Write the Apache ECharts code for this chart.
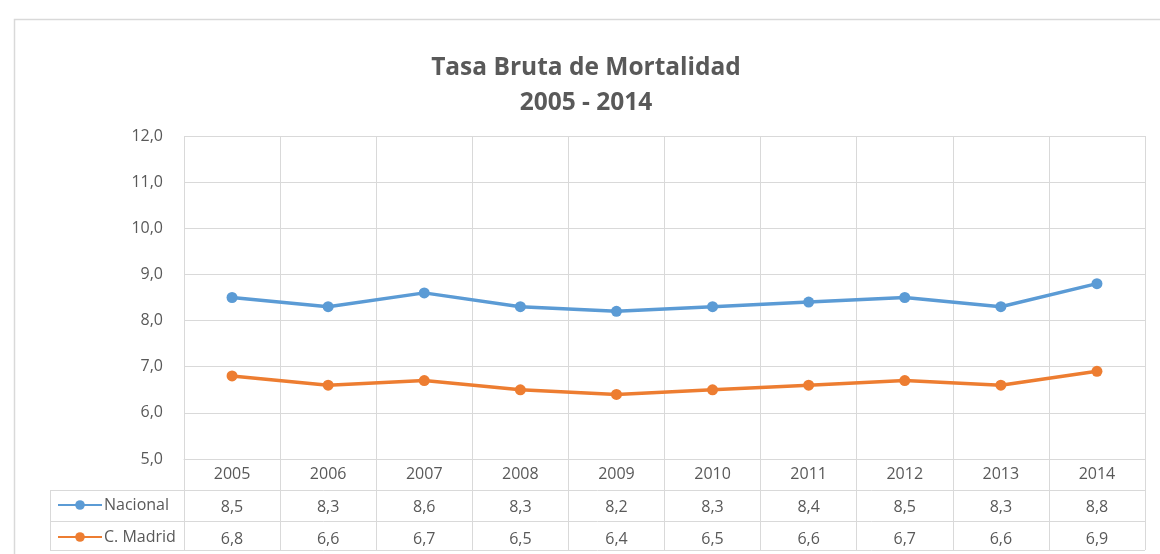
<!DOCTYPE html>
<html>
<head>
    <meta charset="utf-8" />
    <title>Tasa Bruta de Mortalidad</title>
    <script src="https://cdn.jsdelivr.net/npm/echarts@6/dist/echarts.min.js"></script>
    <style type="text/css">
        body {
            margin: 0;
            padding: 0;
            background-color: #ffffff;
            overflow: hidden;
        }

        #main {
            width: 1160px;
            height: 554px;
        }
    </style>
</head>
<body>
    <div id="main"></div>
    <script type="text/javascript">
        // datos
        var years = ['2005', '2006', '2007', '2008', '2009', '2010', '2011', '2012', '2013', '2014'];
        var nacional = [8.5, 8.3, 8.6, 8.3, 8.2, 8.3, 8.4, 8.5, 8.3, 8.8];
        var madrid = [6.8, 6.6, 6.7, 6.5, 6.4, 6.5, 6.6, 6.7, 6.6, 6.9];
        var yTicks = [5, 6, 7, 8, 9, 10, 11, 12];

        var textColor = '#595959';
        var gridColor = '#d9d9d9';
        var font = '"Open Sans", sans-serif';

        // coma decimal
        function fmt(v) {
            return Number(v).toFixed(1).replace('.', ',');
        }

        // eje de la tabla de datos (fila extra bajo el gráfico)
        function tableAxis(values, offset) {
            return {
                type: 'category',
                position: 'bottom',
                offset: offset,
                data: years,
                axisLine: { show: false },
                axisTick: { show: false },
                splitLine: { show: false },
                axisLabel: {
                    margin: 8,
                    color: textColor,
                    fontFamily: font,
                    fontSize: 16,
                    formatter: function (v, i) { return fmt(values[i]); }
                }
            };
        }

        var myChart = echarts.init(document.getElementById('main'));

        var options = {
            animation: false,
            title: {
                text: 'Tasa Bruta de Mortalidad\n2005 - 2014',
                left: 581,
                top: 46,
                textAlign: 'center',
                textStyle: {
                    color: textColor,
                    fontFamily: font,
                    fontWeight: 'bold',
                    fontSize: 24.5,
                    lineHeight: 35
                }
            },
            legend: {
                orient: 'vertical',
                left: 57,
                top: 495,
                height: 80,
                padding: 0,
                itemWidth: 44,
                itemHeight: 12,
                itemGap: 12,
                textStyle: {
                    color: textColor,
                    fontFamily: font,
                    fontSize: 16,
                    lineHeight: 20,
                    padding: [0, 0, 0, -3]
                },
                data: ['Nacional', 'C. Madrid']
            },
            grid: {
                left: 184,
                right: 15,
                top: 136,
                bottom: 95,
                containLabel: false
            },
            xAxis: [
                {
                    type: 'category',
                    data: years,
                    boundaryGap: true,
                    axisLine: { show: true, lineStyle: { color: gridColor, width: 1 } },
                    axisTick: { show: true, length: 91, lineStyle: { color: gridColor } },
                    splitLine: { show: true, lineStyle: { color: gridColor, width: 1 } },
                    axisLabel: {
                        margin: 7,
                        color: textColor,
                        fontFamily: font,
                        fontSize: 16
                    }
                },
                tableAxis(nacional, 32),
                tableAxis(madrid, 64)
            ],
            yAxis: {
                type: 'value',
                min: yTicks[0],
                max: yTicks[yTicks.length - 1],
                interval: 1,
                axisLine: { show: false },
                axisTick: { show: false },
                splitLine: { show: true, lineStyle: { color: gridColor, width: 1 } },
                axisLabel: {
                    margin: 21,
                    color: textColor,
                    fontFamily: font,
                    fontSize: 16,
                    formatter: fmt
                }
            },
            series: [
                {
                    name: 'Nacional',
                    type: 'line',
                    data: nacional,
                    symbol: 'circle',
                    symbolSize: 11,
                    itemStyle: { color: '#5B9BD5' },
                    lineStyle: { color: '#5B9BD5', width: 3.5 }
                },
                {
                    name: 'C. Madrid',
                    type: 'line',
                    data: madrid,
                    symbol: 'circle',
                    symbolSize: 11,
                    itemStyle: { color: '#ED7D31' },
                    lineStyle: { color: '#ED7D31', width: 3.5 }
                }
            ],
            // marco y líneas de la tabla
            graphic: [
                {
                    type: 'rect',
                    shape: { x: 14.5, y: 19.5, width: 1200, height: 600 },
                    style: { fill: 'none', stroke: gridColor, lineWidth: 1.5 },
                    silent: true
                },
                { type: 'line', shape: { x1: 50, y1: 490.5, x2: 1145, y2: 490.5 }, style: { stroke: gridColor, lineWidth: 1 } },
                { type: 'line', shape: { x1: 50, y1: 521.5, x2: 1145, y2: 521.5 }, style: { stroke: gridColor, lineWidth: 1 } },
                { type: 'line', shape: { x1: 50, y1: 550.5, x2: 1145, y2: 550.5 }, style: { stroke: gridColor, lineWidth: 1 } },
                { type: 'line', shape: { x1: 50.5, y1: 490, x2: 50.5, y2: 551 }, style: { stroke: gridColor, lineWidth: 1 } }
            ]
        };

        myChart.setOption(options);
    </script>
</body>
</html>
